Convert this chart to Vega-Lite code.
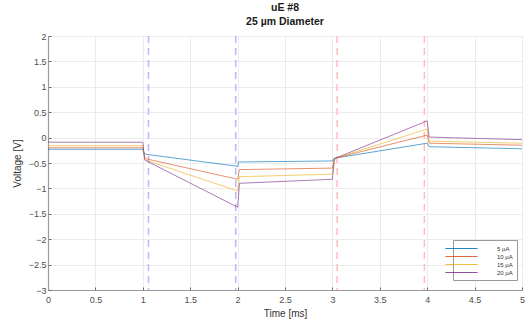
{
  "$schema": "https://vega.github.io/schema/vega-lite/v6.json",
  "autosize": {"type": "none"},
  "width": 474,
  "height": 254,
  "padding": {"left": 48, "top": 36, "right": 4, "bottom": 42},
  "background": "white",
  "title": {
    "text": ["uE #8", "25 µm Diameter"],
    "fontSize": 10.5,
    "fontWeight": "bold",
    "font": "Liberation Sans",
    "color": "#1a1a1a",
    "lineHeight": 14,
    "offset": 5,
    "anchor": "middle"
  },
  "config": {
    "font": "Liberation Sans",
    "view": {"stroke": "#d4d4d4", "strokeWidth": 1},
    "axis": {
      "labelFontSize": 9,
      "labelColor": "#4d4d4d",
      "titleFontSize": 10,
      "titleFontWeight": "normal",
      "titleColor": "#333333",
      "gridColor": "#ebebeb",
      "gridWidth": 1,
      "domainColor": "#9a9a9a",
      "domainWidth": 1.2,
      "tickColor": "#666666",
      "tickSize": -3,
      "labelPadding": 8
    }
  },
  "datasets": {
    "traces": [
      {"t": 0, "v": -0.23, "s": "5 µA"},
      {"t": 1.0, "v": -0.23, "s": "5 µA"},
      {"t": 1.01, "v": -0.30, "s": "5 µA"},
      {"t": 1.04, "v": -0.33, "s": "5 µA"},
      {"t": 1.98, "v": -0.56, "s": "5 µA"},
      {"t": 2.0, "v": -0.57, "s": "5 µA"},
      {"t": 2.01, "v": -0.48, "s": "5 µA"},
      {"t": 3.0, "v": -0.46, "s": "5 µA"},
      {"t": 3.02, "v": -0.40, "s": "5 µA"},
      {"t": 3.04, "v": -0.40, "s": "5 µA"},
      {"t": 4.0, "v": -0.11, "s": "5 µA"},
      {"t": 4.02, "v": -0.18, "s": "5 µA"},
      {"t": 5.0, "v": -0.22, "s": "5 µA"},

      {"t": 0, "v": -0.20, "s": "10 µA"},
      {"t": 1.0, "v": -0.20, "s": "10 µA"},
      {"t": 1.02, "v": -0.38, "s": "10 µA"},
      {"t": 1.04, "v": -0.42, "s": "10 µA"},
      {"t": 2.0, "v": -0.82, "s": "10 µA"},
      {"t": 2.02, "v": -0.63, "s": "10 µA"},
      {"t": 3.0, "v": -0.60, "s": "10 µA"},
      {"t": 3.02, "v": -0.42, "s": "10 µA"},
      {"t": 3.04, "v": -0.40, "s": "10 µA"},
      {"t": 4.0, "v": 0.05, "s": "10 µA"},
      {"t": 4.02, "v": -0.11, "s": "10 µA"},
      {"t": 5.0, "v": -0.15, "s": "10 µA"},

      {"t": 0, "v": -0.16, "s": "15 µA"},
      {"t": 1.0, "v": -0.16, "s": "15 µA"},
      {"t": 1.02, "v": -0.42, "s": "15 µA"},
      {"t": 1.04, "v": -0.45, "s": "15 µA"},
      {"t": 2.0, "v": -1.05, "s": "15 µA"},
      {"t": 2.02, "v": -0.77, "s": "15 µA"},
      {"t": 3.0, "v": -0.72, "s": "15 µA"},
      {"t": 3.02, "v": -0.43, "s": "15 µA"},
      {"t": 3.04, "v": -0.40, "s": "15 µA"},
      {"t": 4.0, "v": 0.17, "s": "15 µA"},
      {"t": 4.02, "v": -0.07, "s": "15 µA"},
      {"t": 5.0, "v": -0.11, "s": "15 µA"},

      {"t": 0, "v": -0.09, "s": "20 µA"},
      {"t": 1.0, "v": -0.09, "s": "20 µA"},
      {"t": 1.02, "v": -0.44, "s": "20 µA"},
      {"t": 1.04, "v": -0.46, "s": "20 µA"},
      {"t": 2.0, "v": -1.37, "s": "20 µA"},
      {"t": 2.02, "v": -0.90, "s": "20 µA"},
      {"t": 3.0, "v": -0.82, "s": "20 µA"},
      {"t": 3.02, "v": -0.44, "s": "20 µA"},
      {"t": 3.04, "v": -0.40, "s": "20 µA"},
      {"t": 4.0, "v": 0.33, "s": "20 µA"},
      {"t": 4.02, "v": 0.01, "s": "20 µA"},
      {"t": 5.0, "v": -0.04, "s": "20 µA"}
    ],
    "blueMarks": [{"t": 1.06}, {"t": 1.98}],
    "redMarks": [{"t": 3.05}, {"t": 3.97}]
  },
  "layer": [
    {
      "data": {"name": "blueMarks"},
      "mark": {"type": "rule", "color": "#b8b8ff", "strokeWidth": 1.5, "strokeDash": [7, 5]},
      "encoding": {
        "x": {"field": "t", "type": "quantitative", "scale": {"domain": [0, 5]}}
      }
    },
    {
      "data": {"name": "redMarks"},
      "mark": {"type": "rule", "color": "#ffbcbc", "strokeWidth": 1.5, "strokeDash": [7, 5]},
      "encoding": {
        "x": {"field": "t", "type": "quantitative"}
      }
    },
    {
      "data": {"name": "traces"},
      "mark": {"type": "line", "strokeWidth": 0.75, "opacity": 0.85, "clip": true},
      "encoding": {
        "x": {
          "field": "t", "type": "quantitative",
          "scale": {"domain": [0, 5], "nice": false, "zero": false},
          "axis": {"title": "Time [ms]", "values": [0, 0.5, 1, 1.5, 2, 2.5, 3, 3.5, 4, 4.5, 5], "labelFlush": false, "titlePadding": 4, "format": "~g"}
        },
        "y": {
          "field": "v", "type": "quantitative",
          "scale": {"domain": [-3, 2], "nice": false, "zero": false},
          "axis": {"title": "Voltage [V]", "values": [-3, -2.5, -2, -1.5, -1, -0.5, 0, 0.5, 1, 1.5, 2], "labelPadding": 5, "titlePadding": 6, "format": "~g"}
        },
        "color": {
          "field": "s", "type": "nominal",
          "scale": {
            "domain": ["5 µA", "10 µA", "15 µA", "20 µA"],
            "range": ["#0072BD", "#D95319", "#EDB120", "#7E2F8E"]
          },
          "legend": {
            "title": null,
            "orient": "none",
            "legendX": 405,
            "legendY": 204,
            "direction": "vertical",
            "symbolType": "M-4.6,0H4.6",
            "symbolSize": 49,
            "symbolStrokeWidth": 1.2,
            "labelFontSize": 6,
            "labelColor": "#333333",
            "rowPadding": 0,
            "padding": 4,
            "strokeColor": "#999999",
            "fillColor": "white",
            "labelOffset": 31,
            "encode": {
              "symbols": {"update": {"stroke": {"scale": "color", "field": "value"}, "xc": {"value": 20}}}
            }
          }
        }
      }
    }
  ]
}
